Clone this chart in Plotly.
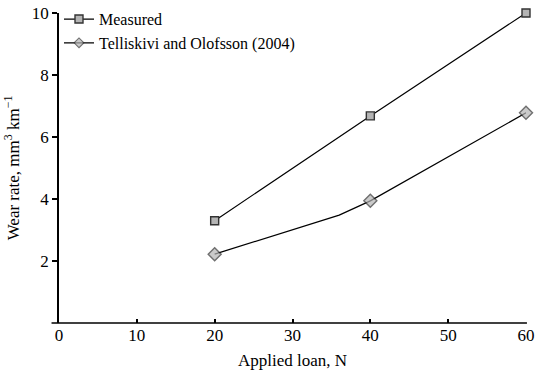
import plotly.graph_objects as go

# Wear rate vs applied load
load_measured = [20, 40, 60]
wear_measured = [3.3, 6.68, 10.0]

load_model = [20, 36, 40, 60]
wear_model = [2.22, 3.48, 3.94, 6.78]
model_markers = [True, False, True, True]

x_ticks = [0, 10, 20, 30, 40, 50, 60]
y_ticks = [2, 4, 6, 8, 10]

FONT = "Liberation Serif, Times New Roman, serif"
MARK_FILL = "#b4b4b4"
MARK_LINE = "#333333"

fig = go.Figure()

fig.add_trace(go.Scatter(
    x=load_measured, y=wear_measured, mode="lines+markers",
    name="Measured",
    line=dict(color="black", width=1.2),
    marker=dict(symbol="square", size=8, color=MARK_FILL,
                line=dict(color=MARK_LINE, width=1.4)),
    cliponaxis=False,
))

fig.add_trace(go.Scatter(
    x=load_model, y=wear_model, mode="lines+markers",
    name="Telliskivi and Olofsson (2004)",
    line=dict(color="black", width=1.2),
    marker=dict(symbol="diamond", size=[10 if m else 0 for m in model_markers],
                color=MARK_FILL, line=dict(color=MARK_LINE,
                width=[1.4 if m else 0 for m in model_markers])),
    cliponaxis=False,
))

# x axis baseline, slightly extended to the left of the origin
fig.add_shape(type="line", xref="paper", yref="paper",
              x0=-0.016, x1=1.002, y0=0, y1=0,
              line=dict(color="black", width=1.5))

fig.update_layout(
    width=536, height=377,
    margin=dict(l=59, r=10, t=13, b=54, autoexpand=False),
    paper_bgcolor="white", plot_bgcolor="white",
    font=dict(family=FONT, size=17, color="black"),
    showlegend=True,
    legend=dict(x=0.0, y=1.035, xanchor="left", yanchor="top",
                bgcolor="rgba(0,0,0,0)", font=dict(size=16),
                tracegroupgap=0, itemwidth=30),
    xaxis=dict(range=[0, 60], tickvals=x_ticks, showgrid=False,
               zeroline=False, showline=False, ticks="inside",
               ticklen=4, tickwidth=1.5, tickcolor="black",
               automargin=False,
               title=dict(text="Applied loan, N", standoff=10,
                          font=dict(size=17))),
    yaxis=dict(range=[0, 10], tickvals=y_ticks, showgrid=False,
               zeroline=False, showline=True, linecolor="black",
               linewidth=1.5, ticks="outside", ticklen=5, tickwidth=1.5,
               tickcolor="black", automargin=False,
               title=dict(text="Wear rate, mm<sup>3</sup> km<sup>\u22121</sup>",
                          standoff=8, font=dict(size=17))),
)

fig.write_html("out.html")
